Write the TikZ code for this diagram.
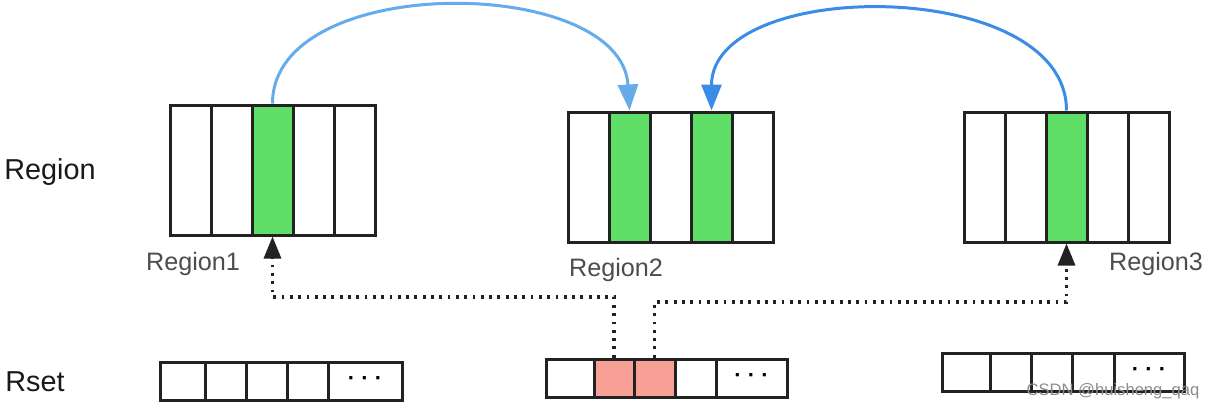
\documentclass[tikz,border=0pt]{standalone}
\usepackage{fontspec}
\setmainfont{Liberation Sans}
\usetikzlibrary{arrows.meta,calc}
\definecolor{cellgreen}{HTML}{5FDF68}
\definecolor{cellpink}{HTML}{F8A096}
\definecolor{blueA}{HTML}{66ABEA}
\definecolor{blueB}{HTML}{3A8CE6}
\definecolor{lbl}{HTML}{4D4D4D}
\definecolor{edge}{HTML}{222222}
\begin{document}
\begin{tikzpicture}[x=0.5pt,y=-0.5pt,
  rcell/.style={draw=edge,line width=1.5pt,minimum width=20.5pt,minimum height=65pt,inner sep=0pt,fill=white},
  scell/.style={draw=edge,line width=1.5pt,minimum height=19pt,inner sep=0pt,fill=white},
  green/.style={fill=cellgreen},
  pink/.style={fill=cellpink},
  biglabel/.style={font=\fontsize{14.4}{17}\selectfont,text=black!90,anchor=west,inner sep=0pt},
  reglabel/.style={font=\fontsize{12.6}{15}\selectfont,text=lbl,inner sep=0pt},
  bluearrow/.style={line width=1.5pt,-{Triangle[length=13pt,width=10pt]}},
  dotline/.style={line width=1.6pt,edge,dash pattern=on 1.4pt off 2.75pt,-{Triangle[length=11pt,width=8.5pt]}},
  dotsym/.style={font=\bfseries\fontsize{11}{12}\selectfont}
]
\path[use as bounding box,fill=white] (0,0) rectangle (1215,412);

% Region 1
\node[rcell] (r1c1) at (190.5,170) {};
\node[rcell] (r1c2) at (231.5,170) {};
\node[rcell,green] (r1c3) at (272.5,170) {};
\node[rcell] (r1c4) at (313.5,170) {};
\node[rcell] (r1c5) at (354.5,170) {};
% Region 2
\node[rcell] (r2c1) at (588.5,177) {};
\node[rcell,green] (r2c2) at (629.5,177) {};
\node[rcell] (r2c3) at (670.5,177) {};
\node[rcell,green] (r2c4) at (711.5,177) {};
\node[rcell] (r2c5) at (752.5,177) {};
% Region 3
\node[rcell] (r3c1) at (984.5,177) {};
\node[rcell] (r3c2) at (1025.5,177) {};
\node[rcell,green] (r3c3) at (1066.5,177) {};
\node[rcell] (r3c4) at (1107.5,177) {};
\node[rcell] (r3c5) at (1148.5,177) {};

% Rset 1
\node[scell,minimum width=22.5pt] (s1c1) at (182.5,381) {};
\node[scell,minimum width=20.5pt] (s1c2) at (225.5,381) {};
\node[scell,minimum width=20.5pt] (s1c3) at (266.5,381) {};
\node[scell,minimum width=20.5pt] (s1c4) at (307.5,381) {};
\node[scell,minimum width=37pt,dotsym] (s1c5) at (365,381) {· · ·};
% Rset 2
\node[scell,minimum width=24pt] (s2c1) at (570,378) {};
\node[scell,pink,minimum width=20pt] (s2c2) at (614,378) {};
\node[scell,pink,minimum width=20.5pt] (s2c3) at (654.5,378) {};
\node[scell,minimum width=20.5pt] (s2c4) at (695.5,378) {};
\node[scell,minimum width=35.5pt,dotsym] (s2c5) at (751.5,378) {· · ·};
% Rset 3
\node[scell,minimum width=24pt] (s3c1) at (966,372) {};
\node[scell,minimum width=20.5pt] (s3c2) at (1010.5,372) {};
\node[scell,minimum width=20.5pt] (s3c3) at (1051.5,372) {};
\node[scell,minimum width=21pt] (s3c4) at (1093,372) {};
\node[scell,minimum width=35pt,dotsym] (s3c5) at (1149,372) {· · ·};

% labels
\node[biglabel] (lregion) at (4,172) {Region};
\node[biglabel] (lrset) at (5,382) {Rset};
\node[reglabel] (l1) at (193,264) {Region1};
\node[reglabel] (l2) at (616,270) {Region2};
\node[reglabel] (l3) at (1156,264) {Region3};

% blue arrows
\draw[bluearrow,blueA] (r1c3.north) .. controls +(0,-132) and +(-8,-136) .. (r2c2.north);
\draw[bluearrow,blueB] (r3c3.north) .. controls +(0,-134) and +(0,-134) .. (r2c4.north);

% dotted arrows
\draw[dotline] (s2c2.north) -- (s2c2.north |- 0,297) -| (r1c3.south);
\draw[dotline] (s2c3.north) -- (s2c3.north |- 0,302) -| (r3c3.south);

% watermark
\node[font=\fontsize{8.3}{10}\selectfont,text=black!45,inner sep=0pt] (wm) at (1113,391) {CSDN @huisheng\_qaq};
\end{tikzpicture}
\end{document}
